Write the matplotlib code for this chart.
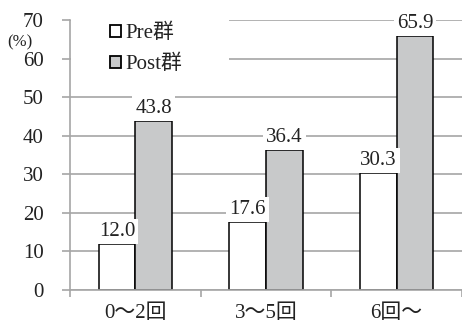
import matplotlib
matplotlib.use("Agg")
import matplotlib.pyplot as plt
import numpy as np
from matplotlib.patches import Patch, Rectangle

categories = ["0～2回", "3～5回", "6回～"]
pre_values = [12.0, 17.6, 30.3]
post_values = [43.8, 36.4, 65.9]
series_names = ["Pre群", "Post群"]
yticks = [0, 10, 20, 30, 40, 50, 60, 70]

FONT = ["Liberation Serif", "Noto Sans CJK JP", "DejaVu Serif"]
plt.rcParams['font.family'] = FONT

W, H = 462, 326
fig = plt.figure(figsize=(W/100, H/100), dpi=100)
ax = fig.add_axes([70/W, 36/H, 392/W, 270/H])

x = np.arange(len(categories))
w = 0.28
grid_c = "#a6a6a6"
post_c = "#c8c9ca"
b1 = ax.bar(x - w/2, pre_values, w, color="white", edgecolor="black", linewidth=1.1, zorder=3)
b2 = ax.bar(x + w/2, post_values, w, color=post_c, edgecolor="black", linewidth=1.1, zorder=3)

for rects, vals in ((b1, pre_values), (b2, post_values)):
    for r, v in zip(rects, vals):
        ax.annotate(f"{v:.1f}", (r.get_x() + r.get_width()/2, v), xytext=(0, 2),
                    textcoords="offset points", ha="center", va="bottom", fontsize=15,
                    color="#222222",
                    bbox=dict(boxstyle="square,pad=0.15", fc="white", ec="none"), zorder=4)

ax.set_ylim(0, 70)
ax.set_xlim(-0.5, -0.5 + 392/133)
ax.set_yticks(yticks)
ax.set_yticklabels([str(t) for t in yticks], fontsize=15, color="#222222")
ax.yaxis.grid(True, color=grid_c, linewidth=1.2, zorder=0)
ax.set_axisbelow(True)

ax.set_xticks(x)
ax.set_xticklabels(categories, fontsize=15, color="#222222")
ax.set_xticks([-0.5, 0.5, 1.5, 2.5], minor=True)
ax.tick_params(axis="x", which="major", length=0, pad=10)
ax.tick_params(axis="x", which="minor", length=5, color=grid_c, width=1.2)
ax.tick_params(axis="y", length=6, color=grid_c, width=1.2, pad=13)
for s in ("top", "right"):
    ax.spines[s].set_visible(False)
for s in ("left", "bottom"):
    ax.spines[s].set_color(grid_c)
    ax.spines[s].set_linewidth(1.2)
    ax.spines[s].set_zorder(5)

# white background behind legend (hides gridlines)
ax.add_patch(Rectangle((71/W, 1 - 80/H), 158/W, 74/H, transform=fig.transFigure,
                       facecolor="white", edgecolor="none", zorder=1, clip_on=False))

fig.text(20/W, 1 - 42/H, "(%)", fontsize=12, ha="center", va="center", color="#222222")

handles = [Patch(facecolor="white", edgecolor="black", linewidth=1.3),
           Patch(facecolor=post_c, edgecolor="black", linewidth=1.3)]
leg = fig.legend(handles, series_names, loc="upper left", bbox_to_anchor=(110/W, 1 - 24/H),
                 frameon=False, fontsize=15, handlelength=0.55, handleheight=0.55,
                 handletextpad=0.2, labelspacing=0.55, borderpad=0.0, borderaxespad=0)
for t in leg.get_texts():
    t.set_color("#222222")

fig.savefig("out.png", dpi=100)
